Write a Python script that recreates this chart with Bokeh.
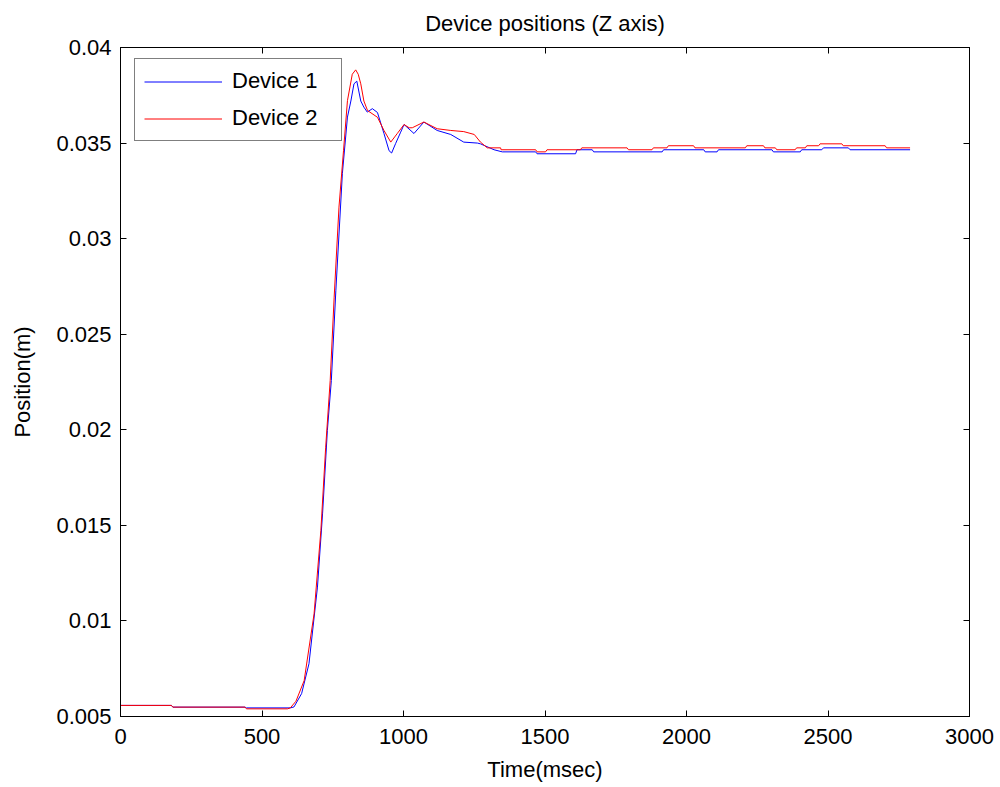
from bokeh.plotting import figure
from bokeh.models import (LinearAxis, FixedTicker, CustomJSTickFormatter, Range1d,
                          Legend, LegendItem)
from bokeh.embed import file_html
from bokeh.resources import INLINE

# ---- data ----
dev1_t = [0, 180, 185, 440, 445, 600, 613, 640, 666, 696, 714, 731, 745, 761, 784,
          802, 814, 825, 835, 849, 860, 872, 890, 908, 931, 949, 958, 972, 990, 1002,
          1037, 1072, 1119, 1167, 1213, 1261, 1272, 1320, 1349, 1467, 1472, 1608,
          1613, 1667, 1672, 1914, 1919, 2061, 2066, 2108, 2113, 2302, 2307, 2402,
          2407, 2478, 2484, 2572, 2578, 2790]
dev1_z = [0.00558, 0.00558, 0.00549, 0.00549, 0.00545, 0.00545, 0.0055, 0.0062,
          0.00776, 0.01177, 0.0156, 0.01996, 0.02258, 0.0273, 0.0334, 0.03636,
          0.0372, 0.0381, 0.03824, 0.0372, 0.03688, 0.03662, 0.0368, 0.0366,
          0.0355, 0.0346, 0.03448, 0.03497, 0.03557, 0.03597, 0.0355, 0.0361,
          0.03566, 0.03545, 0.03505, 0.035, 0.03496, 0.03465, 0.03454, 0.03454,
          0.03444, 0.03444, 0.03465, 0.03465, 0.03454, 0.03454, 0.03465, 0.03465,
          0.03454, 0.03454, 0.03465, 0.03465, 0.03454, 0.03454, 0.03465, 0.03465,
          0.03475, 0.03475, 0.03465, 0.03465]

dev2_t = [0, 180, 185, 440, 445, 590, 600, 620, 649, 684, 708, 725, 741, 755, 772,
          788, 802, 819, 831, 840, 849, 860, 873, 908, 931, 955, 978, 1002, 1020,
          1031, 1072, 1119, 1167, 1213, 1250, 1272, 1296, 1343, 1345, 1467, 1472,
          1502, 1507, 1625, 1630, 1790, 1795, 1878, 1883, 1931, 1936, 2025, 2030,
          2208, 2213, 2272, 2277, 2314, 2319, 2384, 2389, 2420, 2425, 2467, 2472,
          2549, 2554, 2702, 2707, 2790]
dev2_z = [0.00558, 0.00558, 0.00549, 0.00549, 0.0054, 0.0054, 0.00545, 0.0058,
          0.00688, 0.01037, 0.01473, 0.01909, 0.02258, 0.02694, 0.03165, 0.0346,
          0.03722, 0.0386, 0.03883, 0.0386, 0.0381, 0.0372, 0.0367, 0.03635,
          0.03566, 0.03505, 0.0355, 0.03597, 0.0358, 0.0358, 0.0361, 0.03575,
          0.03566, 0.0356, 0.03545, 0.03505, 0.03475, 0.03475, 0.03465, 0.03465,
          0.03454, 0.03454, 0.03465, 0.03465, 0.03475, 0.03475, 0.03465, 0.03465,
          0.03475, 0.03475, 0.03486, 0.03486, 0.03475, 0.03475, 0.03486, 0.03486,
          0.03475, 0.03475, 0.03465, 0.03465, 0.03475, 0.03475, 0.03486, 0.03486,
          0.03496, 0.03496, 0.03486, 0.03486, 0.03475, 0.03475]

x_ticks = [0, 500, 1000, 1500, 2000, 2500, 3000]
y_ticks = [0.005, 0.01, 0.015, 0.02, 0.025, 0.03, 0.035, 0.04]
series_names = ["Device 1", "Device 2"]
series_colors = ["#0000ff", "#ff0000"]

FONT = "Liberation Sans"

p = figure(width=1000, height=787, output_backend="svg", toolbar_location=None,
           x_range=Range1d(0, 3000), y_range=Range1d(0.005, 0.04),
           title="Device positions (Z axis)",
           min_border_left=120, min_border_right=31, min_border_top=47,
           min_border_bottom=71)
p.background_fill_color = "white"
p.border_fill_color = "white"
p.outline_line_color = "black"
p.outline_line_width = 1
p.xgrid.visible = False
p.ygrid.visible = False

p.title.text_font = FONT
p.title.text_font_size = "22px"
p.title.text_font_style = "normal"
p.title.align = "center"
p.title.text_color = "black"
p.title.standoff = 20
p.title.vertical_align = "top"

yfmt = CustomJSTickFormatter(code="return tick.toFixed(3).replace(/0+$/, '');")
blank = CustomJSTickFormatter(code="return '';")


def style_axis(ax, labels=True):
    ax.major_tick_in = 6
    ax.major_tick_out = 0
    ax.minor_tick_in = 0
    ax.minor_tick_out = 0
    ax.axis_line_color = "black"
    ax.major_tick_line_color = "black"
    ax.major_label_text_font = FONT
    ax.major_label_text_color = "black"
    ax.axis_label_text_font = FONT
    ax.axis_label_text_font_style = "normal"
    ax.axis_label_text_color = "black"
    if labels:
        ax.major_label_text_font_size = "22px"
        ax.axis_label_text_font_size = "22px"
    else:
        ax.formatter = blank
        ax.major_label_text_font_size = "1px"
        ax.major_label_standoff = 0


xa = p.xaxis[0]
xa.ticker = FixedTicker(ticks=x_ticks)
xa.axis_label = "Time(msec)"
style_axis(xa)
xa.major_label_standoff = 12
xa.axis_label_standoff = 10

ya = p.yaxis[0]
ya.ticker = FixedTicker(ticks=y_ticks)
ya.formatter = yfmt
ya.axis_label = "Position(m)"
style_axis(ya)
ya.major_label_standoff = 9
ya.axis_label_standoff = 18

top = LinearAxis(ticker=FixedTicker(ticks=x_ticks))
style_axis(top, labels=False)
p.add_layout(top, "above")
right = LinearAxis(ticker=FixedTicker(ticks=y_ticks))
style_axis(right, labels=False)
p.add_layout(right, "right")

r1 = p.line(dev1_t, dev1_z, line_color=series_colors[0], line_width=1)
r2 = p.line(dev2_t, dev2_z, line_color=series_colors[1], line_width=1)

legend = Legend(items=[LegendItem(label=series_names[0], renderers=[r1]),
                       LegendItem(label=series_names[1], renderers=[r2])],
                location=(14, 575))
legend.label_text_font = FONT
legend.label_text_font_size = "22px"
legend.label_text_color = "black"
legend.border_line_color = "black"
legend.border_line_width = 1
legend.background_fill_color = "white"
legend.background_fill_alpha = 1
legend.glyph_width = 78
legend.glyph_height = 23
legend.label_height = 23
legend.label_width = 100
legend.label_standoff = 10
legend.spacing = 11
legend.padding = 9
legend.margin = 0
p.add_layout(legend, "center")

open("out.html", "w").write(file_html(p, INLINE))
